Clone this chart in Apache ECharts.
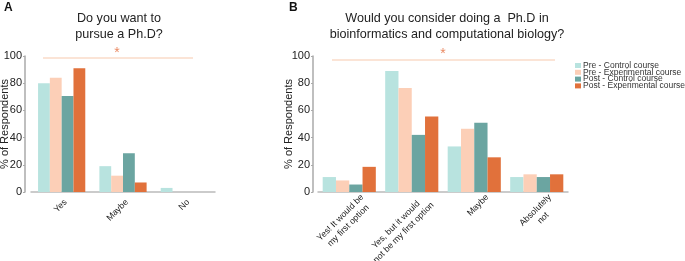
<!DOCTYPE html>
<html>
<head>
<meta charset="utf-8">
<script src="https://cdn.jsdelivr.net/npm/echarts@6/dist/echarts.min.js"></script>
<style>
  html, body { margin: 0; padding: 0; background: #fff; }
  #main { width: 685px; height: 261px; }
</style>
</head>
<body>
<div id="main"></div>
<script>
// group names (legend)
var groups = ['Pre - Control course', 'Pre - Experimental course', 'Post - Control course', 'Post - Experimental course'];
var colors = ['#b8e3df', '#fccfb7', '#6ba5a1', '#e1713b'];

// panel A
var catsA = ['Yes', 'Maybe', 'No'];
var preControlA = [80, 19, 3];
var preExpA = [84, 12, 0];
var postControlA = [70.5, 28.5, 0];
var postExpA = [91, 7, 0];

// panel B
var catsB = ['Yes! It would be\nmy first option', 'Yes, but it would\nnot be my first option', 'Maybe', 'Absolutely\nnot'];
var preControlB = [11, 89, 33.5, 11];
var preExpB = [8.5, 76.5, 46.5, 13];
var postControlB = [5.5, 42, 51, 11];
var postExpB = [18.5, 55.5, 25.5, 13];

var yTicks = [0, 20, 40, 60, 80, 100];

var font = 'Liberation Sans, Arial, sans-serif';
var dataA = [preControlA, preExpA, postControlA, postExpA];
var dataB = [preControlB, preExpB, postControlB, postExpB];

var series = [];
for (var i = 0; i < 4; i++) {
    series.push({
        name: groups[i], type: 'bar', xAxisIndex: 0, yAxisIndex: 0,
        data: dataA[i], itemStyle: { color: colors[i] },
        barGap: '0%', barCategoryGap: '23%'
    });
}
for (var i = 0; i < 4; i++) {
    series.push({
        name: groups[i], type: 'bar', xAxisIndex: 1, yAxisIndex: 1,
        data: dataB[i], itemStyle: { color: colors[i] },
        barGap: '0%', barCategoryGap: '15%'
    });
}

function yAxis(gridIndex, off, gap) {
    return {
        type: 'value', gridIndex: gridIndex, min: 0, max: 100, interval: 20, offset: off,
        name: '% of Respondents', nameLocation: 'middle', nameGap: gap, nameMoveOverlap: false,
        nameTextStyle: { fontFamily: font, fontSize: 11, color: '#222' },
        axisLine: { show: true, lineStyle: { color: '#aaa', width: 1.5 } },
        axisTick: { show: true, length: 2, lineStyle: { color: '#aaa' } },
        axisLabel: { fontFamily: font, fontSize: 11, color: '#222', margin: 3,
            formatter: function (v) { return yTicks.indexOf(v) >= 0 ? v : ''; } },
        splitLine: { show: false }
    };
}
// each line of a category label is centred within the label block
function catLabel(v) {
    return v.split('\n').map(function (s) { return '{c|' + s + '}'; }).join('\n');
}
function xAxis(gridIndex, cats, pad) {
    return {
        type: 'category', gridIndex: gridIndex, data: cats,
        axisLine: { lineStyle: { color: '#bbb', width: 1.5 } },
        axisTick: { alignWithLabel: true, length: 3, lineStyle: { color: '#999' } },
        axisLabel: { rotate: 45, fontFamily: font, fontSize: 8.8, color: '#222', margin: 5,
            interval: 0, lineHeight: 11, verticalAlign: 'top', padding: pad,
            formatter: catLabel,
            rich: { c: { align: 'center', fontFamily: font, fontSize: 8.8, color: '#222', lineHeight: 11 } } }
    };
}

var option = {
    animation: false,
    textStyle: { fontFamily: font },
    title: [
        { text: 'Do you want to\npursue a Ph.D?', left: 114, top: 6, textAlign: 'center',
          textStyle: { fontFamily: font, fontSize: 12.6, fontWeight: 'normal', color: '#222', lineHeight: 16 } },
        { text: 'Would you consider doing a  Ph.D in\nbioinformatics and computational biology?', left: 442, top: 6, textAlign: 'center',
          textStyle: { fontFamily: font, fontSize: 12.6, fontWeight: 'normal', color: '#222', lineHeight: 16 } }
    ],
    legend: {
        data: groups, orient: 'vertical', left: 575, top: 61, padding: 0,
        itemWidth: 6, itemHeight: 5, itemGap: -2.2, icon: 'rect',
        textStyle: { fontFamily: font, fontSize: 8.5, color: '#333', lineHeight: 6, padding: [0, 0, 0, -3] }
    },
    grid: [
        { left: 31, top: 56, width: 184, height: 136, outerBoundsMode: 'none', containLabel: false },
        { left: 318, top: 56, width: 250, height: 136, outerBoundsMode: 'none', containLabel: false }
    ],
    xAxis: [xAxis(0, catsA, [0, 0, 0, 0]), xAxis(1, catsB, [3, -10, 0, 0])],
    yAxis: [yAxis(0, 6, 15), yAxis(1, 5, 19)],
    series: series,
    graphic: [
        { type: 'text', left: 4, top: 2, style: { text: 'A', font: 'bold 12px ' + font, fill: '#111' } },
        { type: 'text', left: 289, top: 2, style: { text: 'B', font: 'bold 12px ' + font, fill: '#111' } },
        { type: 'line', shape: { x1: 43, y1: 58, x2: 193, y2: 58 }, style: { stroke: '#f7c9ad', lineWidth: 1 } },
        { type: 'text', x: 117, y: 46, style: { text: '*', font: '14px ' + font, fill: '#ea8a63', textAlign: 'center' } },
        { type: 'line', shape: { x1: 332, y1: 60, x2: 555, y2: 60 }, style: { stroke: '#f7c9ad', lineWidth: 1 } },
        { type: 'text', x: 443, y: 47, style: { text: '*', font: '14px ' + font, fill: '#ea8a63', textAlign: 'center' } }
    ]
};

var myChart = echarts.init(document.getElementById('main'));
myChart.setOption(option);
</script>
</body>
</html>
